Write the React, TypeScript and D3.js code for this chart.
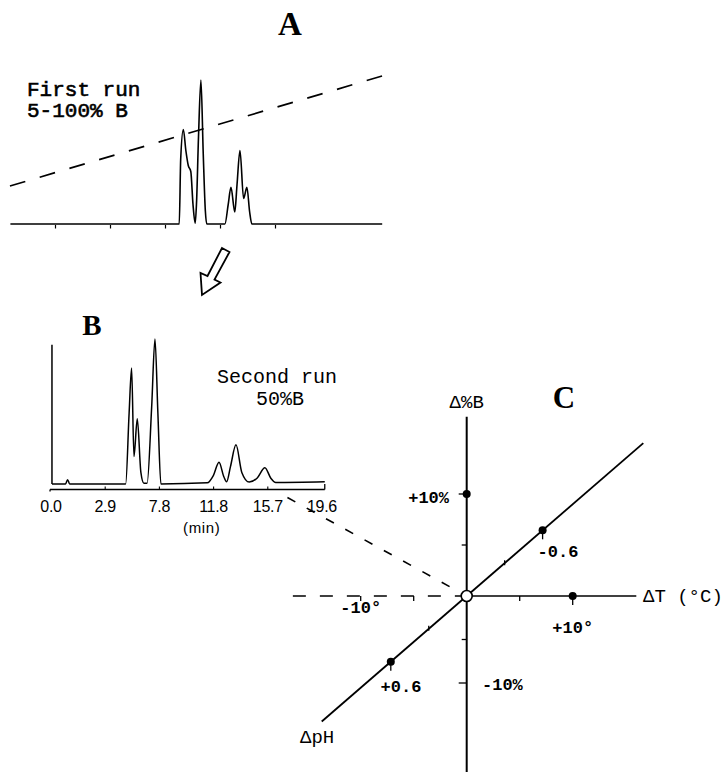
import * as d3 from "d3";

// Panel A – first run, 5–100 %B gradient: [time (min), detector signal]
const runA: [number, number][] = [
  [0.9, 0], [14, 0], [16.25, 0], [16.38, 43], [16.62, 63], [16.85, 49],
  [17.07, 39], [17.3, 35], [17.5, 13], [17.7, 0.5], [17.82, 14], [18.0, 58],
  [18.22, 96], [18.43, 47], [18.62, 9], [18.75, 0], [20.4, 0], [20.7, 13],
  [20.95, 24.5], [21.3, 8], [21.5, 26], [21.77, 49], [22.1, 17], [22.4, 24.5],
  [22.65, 8], [22.85, 0], [34.7, 0],
];
// gradient programme: [time (min), %B]
const gradientA: [number, number][] = [[0.86, 5], [35, 100]];
const ticksA = [5, 10, 15, 20, 25];

// Panel B – second run, isocratic 50 %B
const injectionB: [number, number][] = [[0.07, 0], [0.07, 96]];
const runB: [number, number][] = [
  [0.07, 0], [1.05, 0], [1.2, 3], [1.35, 0], [5.4, 0], [5.65, 49], [5.83, 80],
  [6.0, 19], [6.24, 45], [6.5, 8], [6.72, 0.5], [6.95, 0.5], [7.28, 53],
  [7.52, 100], [7.73, 49], [7.95, 0], [11.3, 0.8], [11.75, 6], [12.15, 15],
  [12.5, 5], [12.7, 1.5], [12.98, 12], [13.38, 27], [13.8, 8], [14.34, 1.3],
  [14.9, 4], [15.47, 11.2], [15.9, 4], [16.25, 1], [19.8, 1.5],
];
const ticksB = [0, 3.92, 7.84, 11.76, 15.68, 19.6];
const tickLabelsB = ["0.0", "2.9", "7.8", "11.8", "15.7", "19.6"];

// Panel C – robustness diagram
const ticksT = [-10, -5, 5, 10];
const dotsT = [10];
const labelsT = [{ v: -10, text: "-10°" }, { v: 10, text: "+10°" }];
const ticksPctB = [-10, -5, 5, 10];
const dotsPctB = [10];
const ticksPH = [-0.3, 0.3];
const dotsPH = [-0.6, 0.6];

const W = 726;
const H = 772;
const mono = "'Liberation Mono', 'DejaVu Sans Mono', monospace";
const serif = "'Liberation Serif', 'DejaVu Serif', serif";
const narrow = "'Liberation Sans Narrow', 'Liberation Sans', Arial, sans-serif";

export default function App() {
  // A scales
  const xA = d3.scaleLinear().domain([0, 35]).range([0.5, 385.5]);
  const yA = d3.scaleLinear().domain([0, 100]).range([224, 74]);
  const gA = d3.scaleLinear().domain([5, 100]).range([186, 75]);
  const lineA = d3.line<[number, number]>().x((d) => xA(d[0])).y((d) => yA(d[1])).curve(d3.curveMonotoneX);
  const gradLine = d3.line<[number, number]>().x((d) => xA(d[0])).y((d) => gA(d[1]));

  // B scales
  const xB = d3.scaleLinear().domain([0, 19.6]).range([51, 322]);
  const yB = d3.scaleLinear().domain([0, 100]).range([484, 339]);
  const lineB = d3.line<[number, number]>().x((d) => xB(d[0])).y((d) => yB(d[1])).curve(d3.curveMonotoneX);
  const injLine = d3.line<[number, number]>().x((d) => xB(d[0])).y((d) => yB(d[1]));
  const axisYB = 489.5;

  // C scales
  const xT = d3.scaleLinear().domain([-10, 10]).range([360.7, 572.7]);
  const yP = d3.scaleLinear().domain([-10, 0, 10]).range([683, 596, 494]);
  const phX = d3.scaleLinear().domain([-0.6, 0.6]).range([542.6, 390.8]);
  const phY = d3.scaleLinear().domain([-0.6, 0.6]).range([530.3, 661.7]);
  const ox = xT(0);
  const oy = yP(0);

  // connector from run B to the centre of C
  const connStart: [number, number] = [xB(17.1), axisYB + 8];
  const dirX = ox - connStart[0];
  const dirY = oy - connStart[1];
  const dl = Math.hypot(dirX, dirY);
  const connEnd: [number, number] = [ox - (dirX / dl) * 7, oy - (dirY / dl) * 7];

  return (
    <svg width={W} height={H} viewBox={`0 0 ${W} ${H}`} style={{ position: "absolute", left: 0, top: 0, background: "#fff" }}>
      <rect width={W} height={H} fill="#fff" />
      {/* ---------- Panel A ---------- */}
      <text x={290} y={35} fontFamily={serif} fontWeight="bold" fontSize={33} textAnchor="middle">A</text>
      <text x={27} y={96} fontFamily={mono} fontSize={21} stroke="#000" strokeWidth={0.6}>First run</text>
      <text x={27} y={117} fontFamily={mono} fontSize={21} stroke="#000" strokeWidth={0.6}>5-100% B</text>
      <path d={gradLine(gradientA) ?? ""} fill="none" stroke="#000" strokeWidth={1.7} strokeDasharray="16 15" />
      <path d={lineA(runA) ?? ""} fill="none" stroke="#000" strokeWidth={1.6} strokeLinejoin="round" />
      {ticksA.map((t) => (
        <line key={t} x1={xA(t)} x2={xA(t)} y1={225} y2={228.5} stroke="#000" strokeWidth={1.2} />
      ))}

      {/* arrow */}
      <path d="M222,248 L229.5,252 L214.5,279.5 L220.5,282.5 L202,295 L200.5,273 L207.5,276 Z"
        fill="#fff" stroke="#000" strokeWidth={1.8} strokeLinejoin="miter" />

      {/* ---------- Panel B ---------- */}
      <text x={92} y={335} fontFamily={serif} fontWeight="bold" fontSize={29} textAnchor="middle">B</text>
      <text x={217} y={383} fontFamily={mono} fontSize={20}>Second run</text>
      <text x={280} y={405} fontFamily={mono} fontSize={20} textAnchor="middle">50%B</text>
      <path d={injLine(injectionB) ?? ""} fill="none" stroke="#000" strokeWidth={1.5} />
      <path d={lineB(runB) ?? ""} fill="none" stroke="#000" strokeWidth={1.5} strokeLinejoin="round" />
      <line x1={xB(-0.07)} x2={xB(19.8)} y1={axisYB} y2={axisYB} stroke="#000" strokeWidth={1.6} />
      <line x1={xB(19.8)} x2={xB(19.8)} y1={yB(0)} y2={axisYB} stroke="#000" strokeWidth={1.3} />
      <line x1={xB(-0.07)} x2={xB(-0.07)} y1={axisYB} y2={axisYB + 2} stroke="#000" strokeWidth={1.3} />
      {ticksB.map((t, i) => (
        <g key={t}>
          {i > 0 && i < ticksB.length - 1 && (
            <line x1={xB(t)} x2={xB(t)} y1={axisYB - 3} y2={axisYB} stroke="#000" strokeWidth={1.1} />
          )}
          <text x={xB(t)} y={512} fontFamily={narrow} fontSize={16} textAnchor="middle" letterSpacing={-0.3}>
            {tickLabelsB[i]}
          </text>
        </g>
      ))}
      <text x={xB(10.9)} y={533} fontFamily={narrow} fontSize={15} textAnchor="middle" letterSpacing={0.6}>(min)</text>

      {/* connector */}
      <line x1={connStart[0]} y1={connStart[1]} x2={connEnd[0]} y2={connEnd[1]} stroke="#000" strokeWidth={1.6} strokeDasharray="9 13" />

      {/* ---------- Panel C ---------- */}
      <text x={564} y={408} fontFamily={serif} fontWeight="bold" fontSize={31} textAnchor="middle">C</text>
      <text x={ox} y={408} fontFamily={mono} fontSize={19} textAnchor="middle">Δ%B</text>
      <text x={643} y={602} fontFamily={mono} fontSize={19}>ΔT (°C)</text>
      <text x={300} y={743} fontFamily={mono} fontSize={19}>ΔpH</text>

      {/* %B axis */}
      <line x1={ox} x2={ox} y1={416.7} y2={H} stroke="#000" strokeWidth={2} />
      {ticksPctB.map((v) => (
        <line key={v} x1={ox - (Math.abs(v) === 10 ? 8 : 5)} x2={ox} y1={yP(v)} y2={yP(v)} stroke="#000" strokeWidth={1.3} />
      ))}
      {dotsPctB.map((v) => (
        <circle key={v} cx={ox} cy={yP(v)} r={4} fill="#000" />
      ))}
      <text x={449} y={503} fontFamily={mono} fontWeight="bold" fontSize={17} textAnchor="end">+10%</text>
      <text x={482} y={690} fontFamily={mono} fontWeight="bold" fontSize={17}>-10%</text>

      {/* T axis */}
      <line x1={xT(-16.4)} x2={ox} y1={oy} y2={oy} stroke="#000" strokeWidth={1.6} strokeDasharray="13 14" />
      <line x1={ox} x2={xT(16)} y1={oy} y2={oy} stroke="#000" strokeWidth={1.6} />
      {ticksT.map((v) => (
        <line key={v} x1={xT(v)} x2={xT(v)} y1={oy} y2={oy + (v === 10 ? 9 : 5)} stroke="#000" strokeWidth={1.3} />
      ))}
      {dotsT.map((v) => (
        <circle key={v} cx={xT(v)} cy={oy} r={4} fill="#000" />
      ))}
      {labelsT.map((l) => (
        <text key={l.v} x={xT(l.v)} y={l.v < 0 ? 613 : 633} fontFamily={mono} fontWeight="bold" fontSize={17} textAnchor="middle">
          {l.text}
        </text>
      ))}

      {/* pH axis */}
      <line x1={phX(1.146)} y1={phY(1.146)} x2={phX(-1.396)} y2={phY(-1.396)} stroke="#000" strokeWidth={1.8} />
      {ticksPH.map((v) => (
        <line key={v} x1={phX(v)} x2={phX(v)} y1={phY(v) - 3} y2={phY(v) + 2} stroke="#000" strokeWidth={1.3} />
      ))}
      {dotsPH.map((v) => (
        <g key={v}>
          <line x1={phX(v)} x2={phX(v)} y1={phY(v)} y2={phY(v) + 9} stroke="#000" strokeWidth={1.3} />
          <circle cx={phX(v)} cy={phY(v)} r={4} fill="#000" />
        </g>
      ))}
      <text x={558} y={557} fontFamily={mono} fontWeight="bold" fontSize={17} textAnchor="middle">-0.6</text>
      <text x={401} y={692} fontFamily={mono} fontWeight="bold" fontSize={17} textAnchor="middle">+0.6</text>

      {/* centre */}
      <circle cx={ox} cy={oy} r={5.5} fill="#fff" stroke="#000" strokeWidth={1.6} />
    </svg>
  );
}
